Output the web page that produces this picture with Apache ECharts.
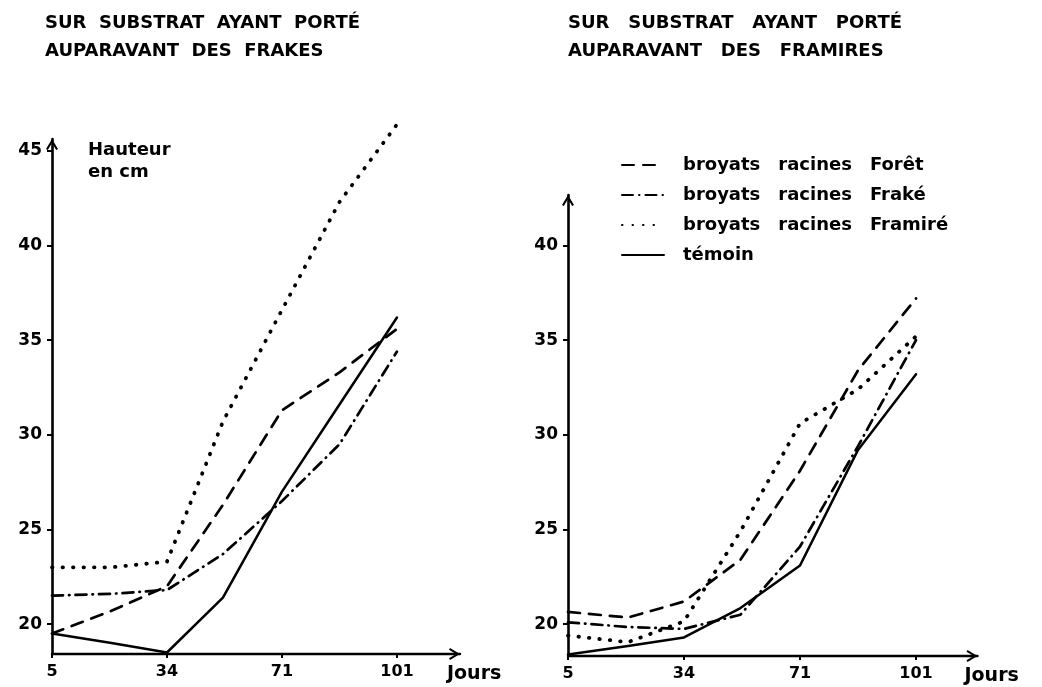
<!DOCTYPE html>
<html>
<head>
<meta charset="utf-8">
<title>Hauteur des plants</title>
<script src="https://cdn.jsdelivr.net/npm/echarts@6/dist/echarts.min.js"></script>
<style>
  html, body { margin: 0; padding: 0; background: #fff; }
  #chart { width: 1042px; height: 687px; }
</style>
</head>
<body>
<div id="chart"></div>
<script>
// Measurement days
const days = [5, 20, 34, 52, 71, 86, 101];
// Days printed under the horizontal axes (drawn evenly spaced)
const tickDays = [5, 34, 71, 101];
const heightTicksLeft = [20, 25, 30, 35, 40, 45];
const heightTicksRight = [20, 25, 30, 35, 40];
const seriesNames = ['broyats racines Forêt', 'broyats racines Fraké', 'broyats racines Framiré', 'témoin'];

// Heights (cm) on substrate that previously bore Frakés
const frakeForet   = [19.5, 20.7, 22.0, 26.3, 31.3, 33.3, 35.6];
const frakeFrake   = [21.5, 21.6, 21.8, 23.7, 26.5, 29.5, 34.4];
const frakeFramire = [23.0, 23.0, 23.3, 30.7, 36.6, 42.3, 46.4];
const frakeTemoin  = [19.5, 19.0, 18.5, 21.4, 27.0, 31.6, 36.2];

// Heights (cm) on substrate that previously bore Framirés
const framireForet   = [20.65, 20.35, 21.2, 23.4, 28.1, 33.4, 37.2];
const framireFrake   = [20.1, 19.85, 19.75, 20.5, 24.1, 29.4, 35.0];
const framireFramire = [19.4, 19.05, 20.15, 24.9, 30.6, 32.4, 35.2];
const framireTemoin  = [18.4, 18.85, 19.3, 20.85, 23.1, 29.2, 33.2];

const FONT = 'DejaVu Sans';
const INK = '#000';

// The day axis is drawn with evenly spaced labelled days; convert a day
// into that axis' units by linear interpolation between labelled days.
function dayToAxis(d) {
  for (let i = 0; i < tickDays.length - 1; i++) {
    if (d <= tickDays[i + 1]) {
      return i + (d - tickDays[i]) / (tickDays[i + 1] - tickDays[i]);
    }
  }
  return tickDays.length - 1;
}

const tickIdx = tickDays.map((_, i) => i);

// open arrow head pointing along the axis
const ARROW = 'path://M0,10 L6,0 L12,10 L10.2,11 L6,4 L1.8,11 Z';

const lineTypes = [
  { type: [12, 9], width: 2.7 },          // Forêt: long dashes
  { type: [11, 6, 0.5, 6], width: 2.7 },  // Fraké: dash-dot
  { type: [0.5, 10], width: 3.8 },        // Framiré: dots
  { type: 'solid', width: 2.5 }           // témoin
];

function makeSeries(gridIdx, groups) {
  return groups.map((vals, k) => ({
    name: seriesNames[k],
    type: 'line',
    xAxisIndex: gridIdx,
    yAxisIndex: gridIdx,
    data: days.map((d, i) => [dayToAxis(d), vals[i]]),
    symbol: 'none',
    clip: false,
    silent: true,
    lineStyle: {
      color: INK,
      width: lineTypes[k].width,
      type: lineTypes[k].type,
      cap: 'round',
      join: 'round'
    },
    itemStyle: { color: INK }
  }));
}

function dayAxis(gridIdx, max) {
  return {
    type: 'value',
    gridIndex: gridIdx,
    min: 0,
    max: max,
    axisLine: {
      show: true,
      onZero: false,
      symbol: ['none', ARROW],
      symbolSize: [12, 11],
      symbolOffset: [0, -5.5],
      lineStyle: { color: INK, width: 2.4 }
    },
    axisTick: {
      show: true,
      customValues: tickIdx,
      length: 4,
      lineStyle: { color: INK, width: 2 }
    },
    axisLabel: {
      customValues: tickIdx,
      formatter: v => String(tickDays[Math.round(v)]),
      margin: 10,
      color: INK,
      fontFamily: FONT,
      fontSize: 16,
      fontWeight: 'bold'
    },
    splitLine: { show: false },
    name: 'Jours',
    nameLocation: 'end',
    nameGap: -13,
    nameTextStyle: {
      align: 'left',
      verticalAlign: 'top',
      padding: [11, 0, 0, 0],
      color: INK,
      fontFamily: FONT,
      fontSize: 19,
      fontWeight: 'bold'
    }
  };
}

function heightAxis(gridIdx, min, max, ticks, withName) {
  const ax = {
    type: 'value',
    gridIndex: gridIdx,
    min: min,
    max: max,
    axisLine: {
      show: true,
      onZero: false,
      symbol: ['none', ARROW],
      symbolSize: [12, 11],
      symbolOffset: [0, -5.5],
      lineStyle: { color: INK, width: 2.6 }
    },
    axisTick: {
      show: true,
      customValues: ticks,
      length: 5,
      lineStyle: { color: INK, width: 2 }
    },
    axisLabel: {
      customValues: ticks,
      margin: 10,
      color: INK,
      fontFamily: FONT,
      fontSize: 17,
      fontWeight: 'bold'
    },
    splitLine: { show: false }
  };
  if (withName) {
    ax.name = 'Hauteur\nen cm';
    ax.nameLocation = 'end';
    ax.nameGap = 0;
    ax.nameTextStyle = {
      align: 'left',
      verticalAlign: 'top',
      padding: [0, 0, 0, 36],
      lineHeight: 22,
      color: INK,
      fontFamily: FONT,
      fontSize: 18,
      fontWeight: 'bold'
    };
  }
  return ax;
}

const titleStyle = {
  color: INK,
  fontFamily: FONT,
  fontSize: 18,
  fontWeight: 'bold',
  lineHeight: 28
};

const chart = echarts.init(document.getElementById('chart'), null, { renderer: 'canvas' });

chart.setOption({
  animation: false,
  backgroundColor: '#fff',
  title: [
    {
      text: 'SUR  SUBSTRAT  AYANT  PORTÉ\nAUPARAVANT  DES  FRAKES',
      left: 45, top: 9, padding: 0, textStyle: titleStyle
    },
    {
      text: 'SUR   SUBSTRAT   AYANT   PORTÉ\nAUPARAVANT   DES   FRAMIRES',
      left: 568, top: 9, padding: 0, textStyle: titleStyle
    }
  ],
  legend: {
    data: seriesNames,
    orient: 'vertical',
    left: 621,
    top: 156,
    padding: 0,
    itemWidth: 42,
    itemHeight: 14,
    itemGap: 12,
    selectedMode: false,
    itemStyle: { opacity: 0 },
    // wider word spacing, as lettered on the sheet
    formatter: name => name.replace(/ /g, '\u2003'),
    textStyle: {
      color: INK,
      fontFamily: FONT,
      fontSize: 18,
      fontWeight: 'bold',
      padding: [0, 0, 0, 14]
    }
  },
  grid: [
    { left: 52, top: 139, width: 408, height: 515, outerBoundsMode: 'none' },
    { left: 568, top: 195, width: 409.5, height: 461, outerBoundsMode: 'none' }
  ],
  xAxis: [dayAxis(0, 3.548), dayAxis(1, 3.53)],
  yAxis: [
    heightAxis(0, 18.42, 45.63, heightTicksLeft, true),
    heightAxis(1, 18.32, 42.66, heightTicksRight, false)
  ],
  series: [
    ...makeSeries(0, [frakeForet, frakeFrake, frakeFramire, frakeTemoin]),
    ...makeSeries(1, [framireForet, framireFrake, framireFramire, framireTemoin])
  ]
});
</script>
</body>
</html>
